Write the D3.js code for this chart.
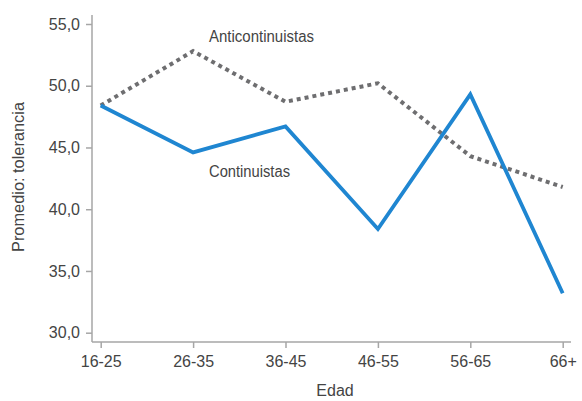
<!DOCTYPE html>
<html><head><meta charset="utf-8">
<script src="https://cdn.jsdelivr.net/npm/d3@7"></script>
<style>
body{margin:0;background:#fff}
text{font-family:"Liberation Sans",Arial,sans-serif;fill:#444}
</style></head><body>
<svg id="c" width="582" height="401"></svg>
<script>
const categories = ["16-25","26-35","36-45","46-55","56-65","66+"];
const continuistas = [48.4, 44.6, 46.7, 38.4, 49.3, 33.2];
const anticontinuistas = [48.4, 52.8, 48.7, 50.2, 44.3, 41.8];
const yTicks = [30, 35, 40, 45, 50, 55];
const seriesNames = ["Continuistas", "Anticontinuistas"];

const svg = d3.select("#c");
const axisLeft = 92, axisRight = 571, axisBottom = 342, axisTop = 15;

const x = d3.scalePoint().domain(categories).range([100.7, 562.7]);
const y = d3.scaleLinear().domain([30, 55]).range([332.7, 24]);

const axisColor = "#a6a6a6";

svg.append("line").attr("x1", axisLeft).attr("x2", axisLeft).attr("y1", axisTop).attr("y2", axisBottom)
  .attr("stroke", axisColor).attr("stroke-width", 1.5);
svg.append("line").attr("x1", axisLeft).attr("x2", axisRight).attr("y1", axisBottom).attr("y2", axisBottom)
  .attr("stroke", axisColor).attr("stroke-width", 1.5);

const fmt = d => d.toFixed(1).replace(".", ",");
const yg = svg.append("g").attr("transform", `translate(${axisLeft},0)`)
  .call(d3.axisLeft(y).tickValues(yTicks).tickSize(6).tickPadding(6).tickFormat(fmt));
yg.select(".domain").remove();
yg.selectAll(".tick line").attr("stroke", axisColor).attr("stroke-width", 1.5);
yg.selectAll(".tick text").style("font-size", "16px").attr("fill", "#444").style("font-family", null);

const xg = svg.append("g").attr("transform", `translate(0,${axisBottom})`)
  .call(d3.axisBottom(x).tickSize(6).tickPadding(8));
xg.select(".domain").remove();
xg.selectAll(".tick line").attr("stroke", axisColor).attr("stroke-width", 1.5);
xg.selectAll(".tick text").style("font-size", "16px").attr("fill", "#444").style("font-family", null);

const line = d3.line().x((d, i) => x(categories[i])).y(d => y(d));
svg.append("path").datum(anticontinuistas).attr("d", line)
  .attr("fill", "none").attr("stroke", "#6e6e70").attr("stroke-width", 4)
  .attr("stroke-dasharray", "4,4");
svg.append("path").datum(continuistas).attr("d", line)
  .attr("fill", "none").attr("stroke", "#1f86d1").attr("stroke-width", 3.8)
  .attr("stroke-linejoin", "miter");

svg.append("text").attr("x", 209).attr("y", 41.5).style("font-size", "16px")
  .attr("textLength", 105).attr("lengthAdjust", "spacingAndGlyphs").text(seriesNames[1]);
svg.append("text").attr("x", 209).attr("y", 177).style("font-size", "16px")
  .attr("textLength", 81).attr("lengthAdjust", "spacingAndGlyphs").text(seriesNames[0]);

svg.append("text").attr("x", 335).attr("y", 396).attr("text-anchor", "middle")
  .style("font-size", "16px").text("Edad");
svg.append("text").attr("transform", "translate(24,177) rotate(-90)").attr("text-anchor", "middle")
  .style("font-size", "16px").attr("textLength", 150).attr("lengthAdjust", "spacingAndGlyphs")
  .text("Promedio: tolerancia");
</script></body></html>
